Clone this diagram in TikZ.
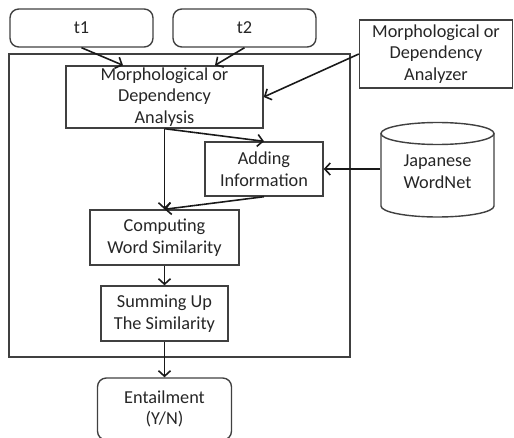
\documentclass[tikz,border=0pt]{standalone}
\usepackage{fontspec}
\setmainfont{Carlito}
\usetikzlibrary{positioning,calc,arrows.meta}

\begin{document}
\begin{tikzpicture}[x=0.02cm,y=0.02cm,>={Straight Barb[length=1.1mm,width=2.4mm]},
  block/.style={draw=black!75,line width=0.8pt,align=center,inner sep=0pt,
    text=black!85,font=\fontsize{10.4}{12.4}\selectfont},
  rblock/.style={block,rounded corners=5pt},
  flow/.style={->,line width=0.9pt,black!90}]

\useasboundingbox (0,0) rectangle (514,437);

% outer frame
\draw [draw=black!75,line width=0.8pt] (9,80) rectangle (350,383);

\node [rblock,minimum width=2.86cm,minimum height=0.76cm] at (81.5,409) (t1) {t1};
\node [rblock,minimum width=2.86cm,minimum height=0.76cm] at (244.5,409) (t2) {t2};

\node [block,minimum width=3.94cm,minimum height=1.24cm] at (164.5,340) (morph) {Morphological or\\Dependency\\Analysis};
\node [block,minimum width=3.06cm,minimum height=1.36cm] at (436,383) (ana) {Morphological or\\Dependency\\Analyzer};

\node [block,minimum width=2.36cm,minimum height=1.08cm] at (264,268) (add) {Adding\\Information};
\node [block,minimum width=2.98cm,minimum height=1.10cm] at (164.5,199.5) (comp) {Computing\\Word Similarity};
\node [block,minimum width=2.54cm,minimum height=1.10cm] at (164.5,123.5) (sum) {Summing Up\\The Similarity};
\node [rblock,minimum width=2.68cm,minimum height=1.24cm] at (164.5,28) (ent) {Entailment\\(Y/N)};

% database
\node [block,draw=none,minimum width=2.26cm,minimum height=1.90cm] at (437.5,265) (wn) {Japanese\\WordNet};
\draw [draw=black!75,line width=0.8pt] (381,303.5) -- (381,231)
  arc [start angle=180,end angle=360,x radius=1.13cm,y radius=0.22cm] -- (494,303.5);
\draw [draw=black!75,line width=0.8pt] (437.5,303.5) ellipse [x radius=1.13cm,y radius=0.22cm];

\draw [flow] (t1.south) -- ($(morph.north)+(-41.5,0)$);
\draw [flow] (t2.south) -- ($(morph.north)+(50.5,0)$);
\draw [flow] (ana.west) -- (morph.east);
\draw [flow] (morph.south) -- (add.north);
\draw [flow] (morph.south) -- (comp.north);
\draw [flow] (add.south) -- (comp.north);
\draw [flow] (add.east -| wn.west) -- (add.east);
\draw [flow] (comp.south) -- (sum.north);
\draw [flow] (sum.south) -- (ent.north);

\end{tikzpicture}
\end{document}
